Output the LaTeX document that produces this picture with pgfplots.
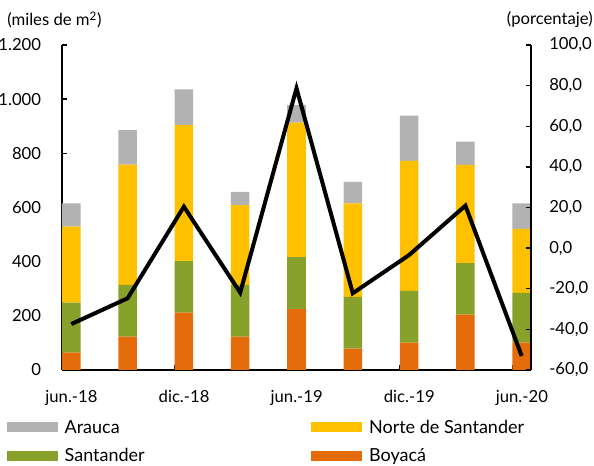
\documentclass[border=0pt]{standalone}
\usepackage{pgfplots}
\pgfplotsset{compat=1.18}
\usepackage{fontspec}
\setmainfont{Lato}

\definecolor{arauca}{HTML}{B2B2B2}
\definecolor{norte}{HTML}{FFC000}
\definecolor{santander}{HTML}{88A12A}
\definecolor{boyaca}{HTML}{E46C0A}

% 1 px of the reference = 0.75pt
\begin{document}
\fontsize{12.5}{15}\selectfont
\begin{tikzpicture}
\begin{axis}[
    name=ax,
    scale only axis,
    width=351.75pt, height=243.75pt,
    xmin=0, xmax=8.33, ymin=0, ymax=1200,
    enlargelimits=false,
    axis x line*=bottom, axis y line*=left,
    axis line style={-, line width=1pt},
    tick align=inside,
    major tick length=3.75pt,
    tick style={line width=1pt, black},
    xtick={0,2,4,6,8},
    xticklabels={jun.-18,dic.-18,jun.-19,dic.-19,jun.-20},
    ytick={0,200,...,1200},
    xticklabel style={anchor=north, inner sep=0pt, yshift=-15pt, xshift=7.1pt},
    yticklabel style={anchor=east, inner sep=0pt, xshift=-15.5pt},
    /pgf/number format/assume math mode=true,
    /pgf/number format/use comma,
    /pgf/number format/1000 sep={.},
    ybar stacked, bar width=0.33,
    legend columns=2,
    legend cell align=left,
    legend image code/.code={\fill[#1] (0pt,-2.25pt) rectangle (38.25pt,5.25pt);},
    legend style={at={(0,0)}, anchor=north west, xshift=-41.25pt, yshift=-38.35pt,
        draw=none, fill=none, inner sep=0pt, outer sep=0pt, row sep=9.4pt,
        font=\fontsize{13.5}{16}\selectfont,
        nodes={inner sep=0pt, text height=9pt, text depth=3pt},
        /tikz/every odd column/.append style={column sep=5pt},
        /tikz/every even column/.append style={column sep=125pt}},
]
% Boyaca (bottom)
\addplot[fill=boyaca, draw=none, forget plot] coordinates {
    (0.165,64) (1.165,123) (2.165,212) (3.165,123) (4.165,225)
    (5.165,79) (6.165,101) (7.165,204) (8.165,101)};
% Santander
\addplot[fill=santander, draw=none, forget plot] coordinates {
    (0.165,185) (1.165,191) (2.165,190) (3.165,191) (4.165,192)
    (5.165,191) (6.165,191) (7.165,191) (8.165,184)};
% Norte de Santander
\addplot[fill=norte, draw=none, forget plot] coordinates {
    (0.165,280) (1.165,444) (2.165,502) (3.165,295) (4.165,496)
    (5.165,345) (6.165,480) (7.165,362) (8.165,236)};
% Arauca (top)
\addplot[fill=arauca, draw=none, forget plot] coordinates {
    (0.165,86) (1.165,128) (2.165,132) (3.165,49) (4.165,66)
    (5.165,80) (6.165,167) (7.165,86) (8.165,94)};

\addlegendimage{fill=arauca, draw=none}
\addlegendentry{Arauca}
\addlegendimage{fill=norte, draw=none}
\addlegendentry{Norte de Santander}
\addlegendimage{fill=santander, draw=none}
\addlegendentry{Santander}
\addlegendimage{fill=boyaca, draw=none}
\addlegendentry{Boyacá}
\end{axis}

\begin{axis}[
    scale only axis,
    width=351.75pt, height=243.75pt,
    at={(ax.south west)}, anchor=south west,
    xmin=0, xmax=8.33, ymin=-60, ymax=100,
    enlargelimits=false,
    axis x line=none, axis y line*=right,
    axis line style={-, line width=1pt},
    tick align=inside,
    major tick length=3.75pt,
    tick style={line width=1pt, black},
    ytick={-60,-40,...,100},
    yticklabel style={anchor=west, inner sep=0pt, xshift=13.5pt},
    /pgf/number format/assume math mode=true,
    /pgf/number format/fixed,
    /pgf/number format/fixed zerofill,
    /pgf/number format/precision=1,
    /pgf/number format/use comma,
]
\addplot[black, line width=3pt, line join=miter, mark=none] coordinates {
    (0.165,-37.4) (1.165,-24.7) (2.165,20.4) (3.165,-21.9) (4.165,78.7)
    (5.165,-22.2) (6.165,-3.4) (7.165,20.9) (8.165,-53.1)};
\end{axis}

\node[anchor=west, inner sep=0pt] at ([shift={(-41.25pt,18.75pt)}]ax.north west) {(miles de m\textsuperscript{2})};
\node[anchor=east, inner sep=0pt] at ([shift={(46.5pt,18.75pt)}]ax.north east) {(porcentaje)};

\pgfresetboundingbox
\path[use as bounding box] ([shift={(-46.5pt,-72pt)}]ax.south west) rectangle ([shift={(399pt,277.5pt)}]ax.south west);
\end{tikzpicture}
\end{document}
